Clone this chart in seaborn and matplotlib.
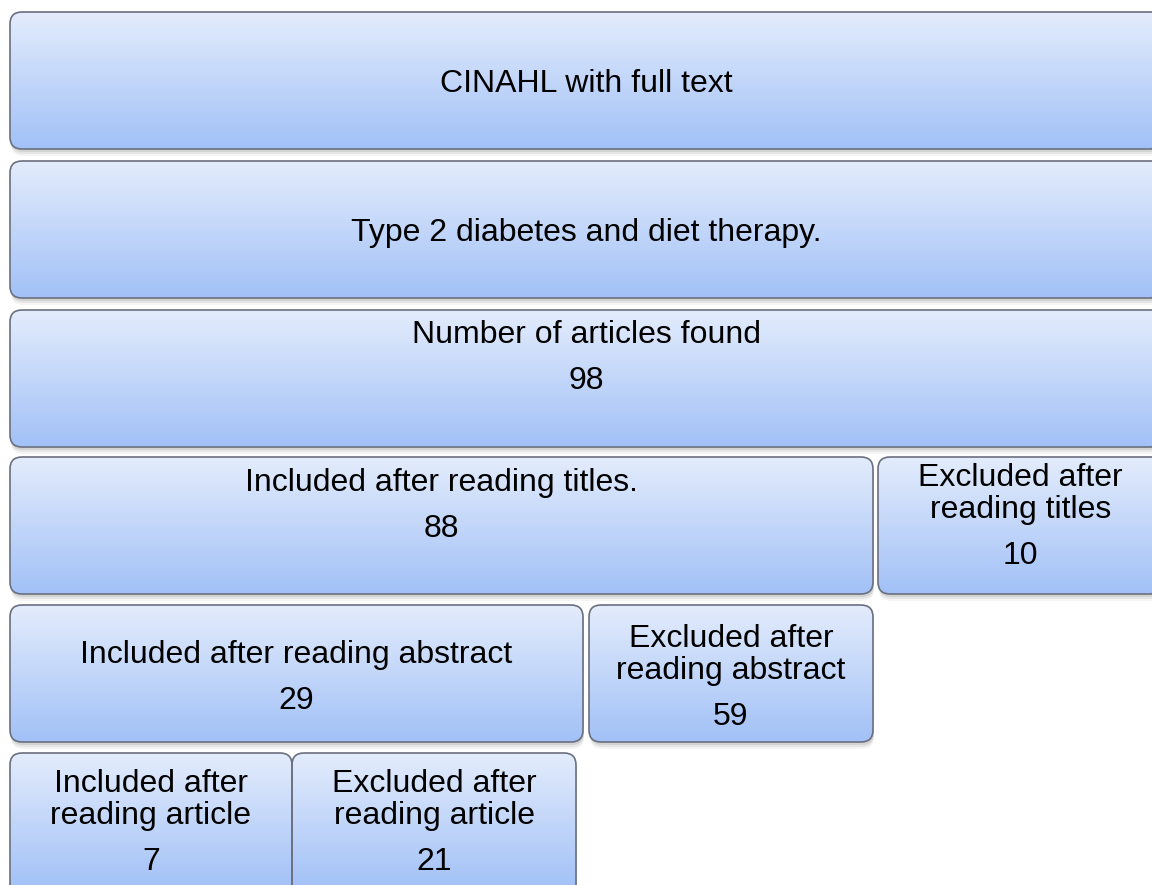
import numpy as np
import matplotlib
matplotlib.use("Agg")
import matplotlib.pyplot as plt
from matplotlib.patches import FancyBboxPatch
from matplotlib.colors import ListedColormap
import seaborn as sns

# Search steps and number of articles at each step
stage_labels = [
    "CINAHL with full text",
    "Type 2 diabetes and diet therapy.",
    "Number of articles found",
    "Included after reading titles.",
    "Excluded after\nreading titles",
    "Included after reading abstract",
    "Excluded after\nreading abstract",
    "Included after\nreading article",
    "Excluded after\nreading article",
]
article_counts = [None, None, 98, 88, 10, 29, 59, 7, 21]

# Layout in pixels (y grows downward)
box_left = [10, 10, 10, 10, 878, 10, 589, 10, 292]
box_right = [1163, 1163, 1163, 873, 1163, 583, 873, 292, 576]
box_row = [0, 1, 2, 3, 3, 4, 4, 5, 5]
text_offset = [None, None, 25, 26, 21, 50, 34, 31, 31]
row_top = [12, 161, 310, 457, 605, 753]
row_height = [137, 137, 137, 137, 137, 160]
RADIUS = 12
LINE_GAP = 32
COUNT_GAP = 46
FS = 23

sns.set_theme(style="white")
plt.rcParams["font.family"] = ["Liberation Sans", "DejaVu Sans"]

fig = plt.figure(figsize=(11.52, 8.85), dpi=100)
ax = fig.add_axes([0, 0, 1, 1])

fill_cmap = ListedColormap(sns.blend_palette(["#e3ecfc", "#a2c1f7"], n_colors=128))
gradient = np.linspace(0, 1, 128).reshape(-1, 1)


def rounded(x0, y0, w, h, **kw):
    return FancyBboxPatch((x0, y0), w, h,
                          boxstyle=f"round,pad=0,rounding_size={RADIUS}", **kw)


for i, label in enumerate(stage_labels):
    x0, x1 = box_left[i], box_right[i]
    y0 = row_top[box_row[i]]
    h = row_height[box_row[i]]
    w = x1 - x0

    # soft shadow under the box
    for d, a in [(7, 0.04), (5, 0.06), (3, 0.08)]:
        ax.add_patch(rounded(x0 + 1, y0 + d, w, h, fc="black", ec="none",
                             alpha=a, zorder=1))

    # gradient fill clipped to the rounded box (gradient spans the standard height)
    im = ax.imshow(gradient, extent=(x0, x1, y0 + 137, y0), cmap=fill_cmap,
                   aspect="auto", origin="upper", zorder=2, interpolation="bilinear")
    clip = rounded(x0, y0, w, h, fc="none", ec="none")
    ax.add_patch(clip)
    im.set_clip_path(clip)
    if h > 137:
        ax.add_patch(rounded(x0, y0 + 137, w, h - 137, fc="#a2c1f7", ec="none", zorder=2))
    ax.add_patch(rounded(x0, y0, w, h, fc="none", ec="#6b7080", lw=1.2, zorder=3))

    cx = (x0 + x1) / 2
    if text_offset[i] is None:
        ax.text(cx, y0 + h / 2 + 3, label, ha="center", va="center",
                fontsize=FS, color="black", zorder=4)
        continue
    lines = label.split("\n")
    y = y0 + text_offset[i]
    for j, line in enumerate(lines):
        ax.text(cx, y + LINE_GAP * j, line, ha="center", va="center",
                fontsize=FS, color="black", zorder=4)
    ax.text(cx, y + LINE_GAP * (len(lines) - 1) + COUNT_GAP, str(article_counts[i]),
            ha="center", va="center", fontsize=FS, color="black", zorder=4)

ax.set_xlim(0, 1152)
ax.set_ylim(885, 0)
ax.axis("off")

fig.savefig("out.png", dpi=100, facecolor="white")
